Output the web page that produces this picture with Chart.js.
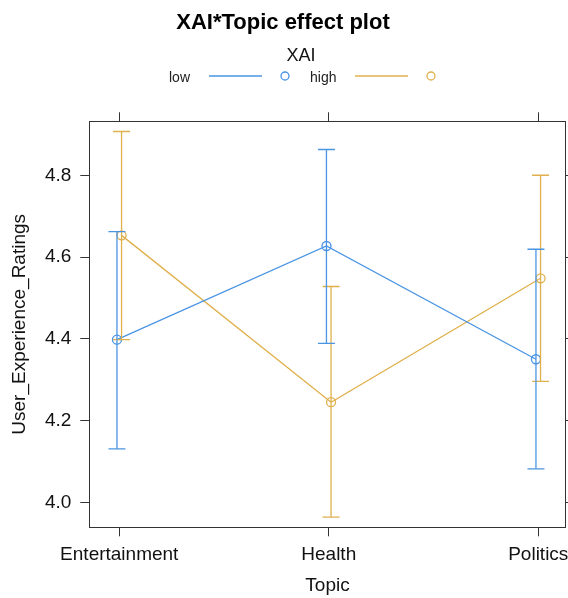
<!DOCTYPE html>
<html>
<head>
<meta charset="utf-8">
<script src="https://cdn.jsdelivr.net/npm/chart.js@4"></script>
<style>
  body { margin: 0; background: #fff; }
</style>
</head>
<body>
<canvas id="chart" width="568" height="598"></canvas>
<script>
const topics = ['Entertainment', 'Health', 'Politics'];
const yTicks = [4.0, 4.2, 4.4, 4.6, 4.8];

// XAI = low
const lowFit = [4.398, 4.627, 4.350];
const lowLower = [4.131, 4.389, 4.082];
const lowUpper = [4.662, 4.863, 4.619];

// XAI = high
const highFit = [4.653, 4.245, 4.548];
const highLower = [4.398, 3.964, 4.296];
const highUpper = [4.907, 4.528, 4.800];

const blue = '#4a94e4';
const gold = '#dfb04c';
const dodge = 0.011;
const font = 'Liberation Sans, Arial, sans-serif';

function fitSet(label, values, color, off) {
  return {
    label: label,
    data: values.map((v, i) => ({ x: i + off, y: v })),
    showLine: true,
    borderColor: color,
    backgroundColor: 'rgba(0,0,0,0)',
    borderWidth: 1.3,
    pointStyle: 'circle',
    pointRadius: 4.5,
    pointBorderWidth: 1.3,
  };
}

function barSets(lower, upper, color, off) {
  return lower.map((lo, i) => ({
    data: [{ x: i + off, y: lo }, { x: i + off, y: upper[i] }],
    showLine: true,
    borderColor: color,
    borderWidth: 1.3,
    pointStyle: 'line',
    pointRadius: 8.5,
    pointBorderWidth: 1.3,
  }));
}

// title and lattice style legend (label, line, symbol)
const headerPlugin = {
  id: 'header',
  afterDraw(chart) {
    const ctx = chart.ctx;
    const cx = chart.width / 2;
    ctx.save();
    ctx.fillStyle = '#000';
    ctx.textAlign = 'center';
    ctx.textBaseline = 'alphabetic';
    ctx.font = 'bold 22px ' + font;
    ctx.fillText('XAI*Topic effect plot', cx - 1, 29);
    ctx.font = '18px ' + font;
    ctx.fillStyle = '#111';
    ctx.fillText('XAI', cx + 17, 61);

    ctx.font = '14px ' + font;
    ctx.textAlign = 'left';
    const items = [
      { text: 'low', color: blue, x: 169 },
      { text: 'high', color: gold, x: 310 },
    ];
    items.forEach((it) => {
      ctx.fillStyle = '#222';
      ctx.fillText(it.text, it.x, 82);
      const lx = it.x + (it.text === 'low' ? 40 : 45);
      ctx.strokeStyle = it.color;
      ctx.lineWidth = 1.6;
      ctx.beginPath();
      ctx.moveTo(lx, 76);
      ctx.lineTo(lx + 53, 76);
      ctx.stroke();
      ctx.lineWidth = 1.3;
      ctx.beginPath();
      ctx.arc(lx + 76, 76, 4, 0, Math.PI * 2);
      ctx.stroke();
    });
    ctx.restore();
  },
};

const axisLine = { display: true, color: '#333', width: 1 };
const gridOut = { drawOnChartArea: false, drawTicks: true, tickLength: 9, tickColor: '#333', tickWidth: 1 };

function noSidePad(s) {
  s.paddingLeft = 0;
  s.paddingRight = 0;
}

new Chart(document.getElementById('chart'), {
  type: 'scatter',
  data: {
    datasets: [
      ...barSets(lowLower, lowUpper, blue, -dodge),
      ...barSets(highLower, highUpper, gold, dodge),
      fitSet('low', lowFit, blue, -dodge),
      fitSet('high', highFit, gold, dodge),
    ],
  },
  options: {
    responsive: false,
    animation: false,
    events: [],
    layout: { padding: 0, autoPadding: false },
    plugins: {
      legend: { display: false },
      title: { display: false },
      tooltip: { enabled: false },
    },
    scales: {
      x: {
        type: 'linear',
        position: 'bottom',
        min: -0.143,
        max: 2.131,
        afterBuildTicks: (s) => { s.ticks = topics.map((t, i) => ({ value: i })); },
        afterFit: (s) => { s.height = 70.7; noSidePad(s); },
        ticks: {
          callback: (v) => topics[v],
          color: '#111',
          font: { family: font, size: 19 },
          padding: 7,
          maxRotation: 0,
        },
        grid: gridOut,
        border: axisLine,
        title: {
          display: true,
          text: 'Topic',
          color: '#111',
          font: { family: font, size: 19 },
          padding: { top: 0, bottom: 1 },
        },
      },
      xTop: {
        type: 'linear',
        position: 'top',
        min: -0.143,
        max: 2.131,
        afterBuildTicks: (s) => { s.ticks = topics.map((t, i) => ({ value: i })); },
        afterFit: (s) => { s.height = 121.3; noSidePad(s); },
        ticks: { display: false },
        grid: gridOut,
        border: axisLine,
      },
      y: {
        position: 'left',
        min: 3.939,
        max: 4.932,
        afterBuildTicks: (s) => { s.ticks = yTicks.map((v) => ({ value: v })); },
        afterFit: (s) => { s.width = 89.3; },
        ticks: {
          callback: (v) => v.toFixed(1),
          color: '#111',
          font: { family: font, size: 19 },
          padding: 9,
        },
        grid: gridOut,
        border: axisLine,
        title: {
          display: true,
          text: 'User_Experience_Ratings',
          color: '#111',
          font: { family: font, size: 19 },
          padding: { top: 8, bottom: 0 },
        },
      },
      yRight: {
        position: 'right',
        min: 3.939,
        max: 4.932,
        afterBuildTicks: (s) => { s.ticks = yTicks.map((v) => ({ value: v })); },
        afterFit: (s) => { s.width = 2.3; s.paddingTop = 0; s.paddingBottom = 0; },
        ticks: { display: false },
        grid: gridOut,
        border: axisLine,
      },
    },
  },
  plugins: [headerPlugin],
});
</script>
</body>
</html>
